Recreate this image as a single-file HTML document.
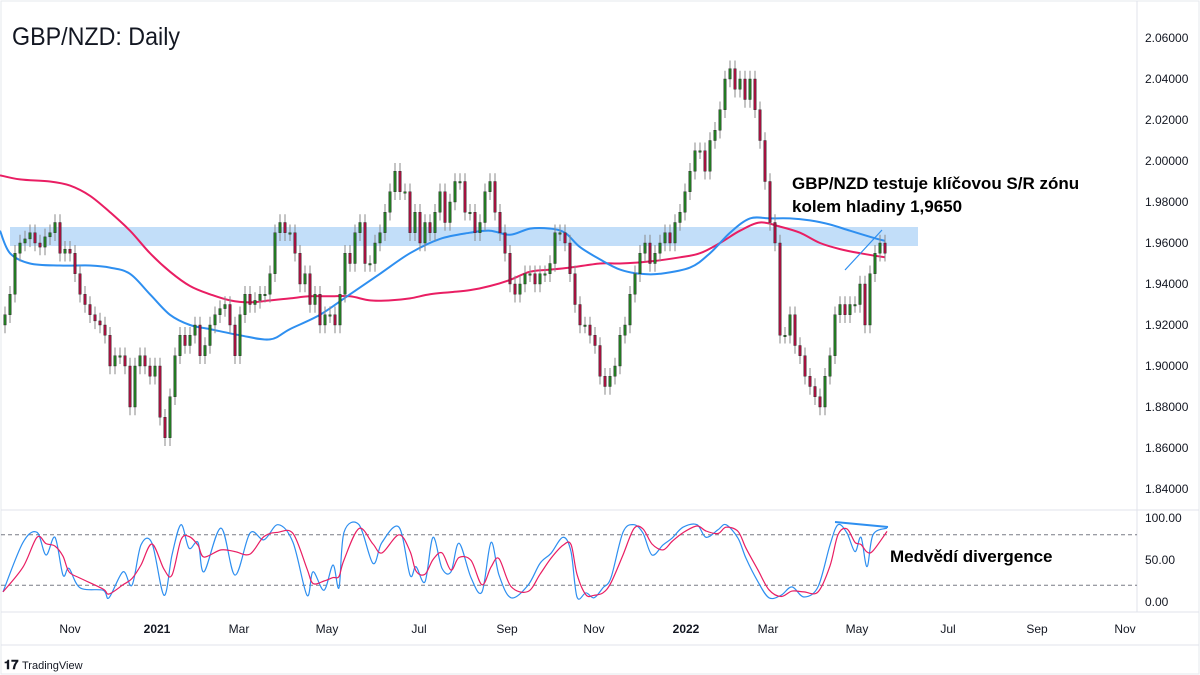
<!DOCTYPE html>
<html><head><meta charset="utf-8">
<style>
body{margin:0;background:#fff;}
svg{display:block;font-family:"Liberation Sans",sans-serif;}
</style></head>
<body>
<svg id="chart" width="1200" height="675" viewBox="0 0 1200 675" xmlns="http://www.w3.org/2000/svg">
<rect x="0" y="0" width="1200" height="675" fill="#fff"/>
<rect x="1" y="1" width="1198" height="673" fill="none" stroke="#e6e8ee"/>
<line x1="1137" y1="1" x2="1137" y2="612" stroke="#e0e3eb"/>
<line x1="1" y1="510" x2="1199" y2="510" stroke="#e0e3eb"/>
<line x1="1" y1="612" x2="1199" y2="612" stroke="#e0e3eb"/>
<line x1="1" y1="645" x2="1199" y2="645" stroke="#e0e3eb"/>
<rect x="10" y="227" width="908" height="19" fill="#bbdaf8" opacity="0.9"/>
<g id="yaxis"></g>
<g id="osc-axis"></g>
<g id="xaxis"></g>
<g id="ma"></g>
<g id="candles"></g>
<g id="osc"></g>
<line x1="845" y1="270" x2="882" y2="230" stroke="#2e8ff0" stroke-width="1.2"/>
<line x1="835" y1="522" x2="888" y2="527" stroke="#2e8ff0" stroke-width="2"/>
<text x="12" y="45" font-size="25" fill="#131722" textLength="168" lengthAdjust="spacingAndGlyphs">GBP/NZD: Daily</text>
<text x="792" y="189" font-size="17" font-weight="bold" fill="#000">GBP/NZD testuje klíčovou S/R zónu</text>
<text x="792" y="212" font-size="17" font-weight="bold" fill="#000">kolem hladiny 1,9650</text>
<text x="890" y="562" font-size="17" font-weight="bold" fill="#000">Medvědí divergence</text>
<g>
<text x="4" y="669" font-size="13" font-weight="bold" fill="#131722">𝟏𝟕</text>
<text x="22" y="669" font-size="11" fill="#131722">TradingView</text>
</g>
</svg>
<script>
const closes=[1.925,1.935,1.955,1.96,1.962,1.965,1.96,1.958,1.963,1.965,1.97,1.955,1.957,1.955,1.945,1.935,1.93,1.925,1.922,1.92,1.915,1.90,1.905,1.905,1.90,1.88,1.90,1.905,1.90,1.895,1.90,1.875,1.865,1.885,1.905,1.915,1.91,1.915,1.92,1.905,1.91,1.92,1.925,1.928,1.93,1.92,1.905,1.925,1.935,1.93,1.932,1.935,1.935,1.945,1.965,1.97,1.965,1.965,1.955,1.94,1.945,1.93,1.935,1.92,1.925,1.925,1.92,1.935,1.955,1.95,1.965,1.97,1.95,1.95,1.96,1.965,1.975,1.985,1.995,1.985,1.985,1.965,1.975,1.96,1.97,1.965,1.975,1.985,1.97,1.98,1.99,1.99,1.975,1.975,1.965,1.97,1.985,1.99,1.975,1.965,1.955,1.94,1.935,1.94,1.945,1.945,1.94,1.945,1.945,1.95,1.965,1.965,1.96,1.945,1.93,1.92,1.92,1.915,1.91,1.895,1.89,1.895,1.90,1.915,1.92,1.935,1.945,1.955,1.96,1.95,1.955,1.96,1.965,1.96,1.97,1.975,1.985,1.995,2.005,2.005,1.995,2.01,2.015,2.025,2.04,2.045,2.035,2.04,2.03,2.04,2.025,2.01,1.99,1.97,1.96,1.915,1.915,1.925,1.91,1.905,1.895,1.89,1.885,1.88,1.895,1.905,1.925,1.93,1.925,1.93,1.93,1.94,1.92,1.945,1.955,1.96,1.955];
const maFastX=[0,10,30,60,90,110,130,150,170,190,210,240,270,290,320,350,380,410,440,470,490,510,530,550,565,580,600,620,640,660,690,710,730,750,770,790,810,830,850,870,885];
const maFast=[1.966,1.955,1.95,1.949,1.949,1.948,1.945,1.935,1.925,1.92,1.918,1.915,1.913,1.918,1.925,1.935,1.945,1.955,1.962,1.965,1.966,1.964,1.967,1.967,1.965,1.958,1.952,1.947,1.945,1.945,1.948,1.955,1.965,1.972,1.972,1.972,1.971,1.969,1.966,1.963,1.961];
const maSlowX=[0,20,50,70,90,110,130,150,170,190,210,230,250,270,290,310,330,350,370,390,410,430,450,470,490,510,530,550,570,600,620,650,680,700,720,740,760,780,800,820,840,860,885];
const maSlow=[1.993,1.991,1.990,1.988,1.983,1.975,1.966,1.955,1.946,1.939,1.935,1.932,1.931,1.932,1.933,1.934,1.934,1.934,1.932,1.932,1.933,1.935,1.936,1.937,1.939,1.942,1.946,1.947,1.948,1.95,1.95,1.951,1.953,1.955,1.96,1.966,1.97,1.968,1.965,1.96,1.957,1.955,1.953];
const stochX=[3,23,37,46,55,63,69,80,103,109,123,132,141,152,164,172,181,189,198,204,221,235,250,264,278,293,307,313,324,333,339,344,359,373,382,399,410,416,425,433,442,451,459,471,482,491,499,511,528,540,551,563,571,577,586,594,603,611,623,634,643,652,663,672,683,697,706,718,726,738,746,758,769,781,792,804,818,830,838,847,855,861,867,873,887];
const stochK=[12,71,83,56,77,32,40,17,14,5,36,20,68,70,8,56,92,64,71,36,88,32,82,74,92,71,8,36,14,44,17,83,92,46,71,89,32,42,24,77,40,36,70,29,12,71,32,5,20,46,58,77,60,6,11,5,17,29,83,92,82,56,68,76,89,92,77,86,92,76,52,24,5,8,18,6,18,68,92,82,60,77,42,80,88];
const priceTicks=[2.06,2.04,2.02,2.00,1.98,1.96,1.94,1.92,1.90,1.88,1.86,1.84];
const oscTicks=[100,50,0];
const timeLabels=["Nov","2021","Mar","May","Jul","Sep","Nov","2022","Mar","May","Jul","Sep","Nov"];
const timeX=[70,157,239,327,419,507,594,686,768,857,948,1037,1125];

const NS="http://www.w3.org/2000/svg";
const yP=p=>38+(2.06-p)*2050;
const yO=v=>602-v*0.84;
const xC=i=>5+i*5;
function mk(tag,attrs,parent){const e=document.createElementNS(NS,tag);for(const k in attrs)e.setAttribute(k,attrs[k]);parent.appendChild(e);return e;}

const ya=document.getElementById('yaxis');
priceTicks.forEach(p=>{const t=mk('text',{x:1145,y:yP(p)+4,'font-size':12,fill:'#131722'},ya);t.textContent=p.toFixed(5);

});
const oa=document.getElementById('osc-axis');
oscTicks.forEach(v=>{const t=mk('text',{x:1145,y:yO(v)+4,'font-size':12,fill:'#131722'},oa);t.textContent=v.toFixed(2);

});
[80,20].forEach(v=>{const l=mk('line',{x1:1,x2:1137,y1:yO(v),y2:yO(v),stroke:'#787b86','stroke-dasharray':'4,3','stroke-width':1},oa);

});
const xa=document.getElementById('xaxis');
timeLabels.forEach((s,i)=>{const t=mk('text',{x:timeX[i],y:633,'font-size':12,fill:'#131722','text-anchor':'middle','font-weight':/^20/.test(s)?'bold':'normal'},xa);t.textContent=s;

});

const cg=document.getElementById('candles');
closes.forEach((c,i)=>{
  const o=i?closes[i-1]:c-0.005;
  const hi=Math.max(o,c)+0.004,lo=Math.min(o,c)-0.004;
  const x=xC(i);
  const w=mk('line',{x1:x,x2:x,y1:yP(hi),y2:yP(lo),stroke:'#8a8a8a','stroke-width':1},cg);
  
  
  const up=c>=o;
  const top=yP(Math.max(o,c)),h=Math.max(1.5,Math.abs(yP(o)-yP(c)));
  const b=mk('rect',{x:x-1.25,y:top,width:2.5,height:h,fill:up?'#237a23':'#a3123f',stroke:'#222','stroke-width':0.4},cg);
  
  
});
function smooth(xs,ys,f){
  const P=xs.map((x,i)=>[x,f(ys[i])]);
  let d='M'+P[0][0]+','+P[0][1].toFixed(1);
  for(let i=0;i<P.length-1;i++){
    const p0=P[Math.max(0,i-1)],p1=P[i],p2=P[i+1],p3=P[Math.min(P.length-1,i+2)];
    const c1=[p1[0]+(p2[0]-p0[0])/6,p1[1]+(p2[1]-p0[1])/6],c2=[p2[0]-(p3[0]-p1[0])/6,p2[1]-(p3[1]-p1[1])/6];
    d+=' C'+c1[0].toFixed(1)+','+c1[1].toFixed(1)+' '+c2[0].toFixed(1)+','+c2[1].toFixed(1)+' '+p2[0]+','+p2[1].toFixed(1);
  }
  return d;
}
const mg=document.getElementById('ma');
const pSlow=mk('path',{d:smooth(maSlowX,maSlow,yP),fill:'none',stroke:'#e91e63','stroke-width':2},mg);


const pFast=mk('path',{d:smooth(maFastX,maFast,yP),fill:'none',stroke:'#2e8ff0','stroke-width':2},mg);


const og=document.getElementById('osc');
const stochD=stochK.map((v,i)=>{const a=stochK.slice(Math.max(0,i-1),i+1);return a.reduce((s,x)=>s+x,0)/a.length;});
const kLine=mk('path',{d:smooth(stochX,stochK,yO),fill:'none',stroke:'#2e8ff0','stroke-width':1.2},og);


const dLine=mk('path',{d:smooth(stochX,stochD,yO),fill:'none',stroke:'#e91e63','stroke-width':1.2},og);


</script>
</body></html>
